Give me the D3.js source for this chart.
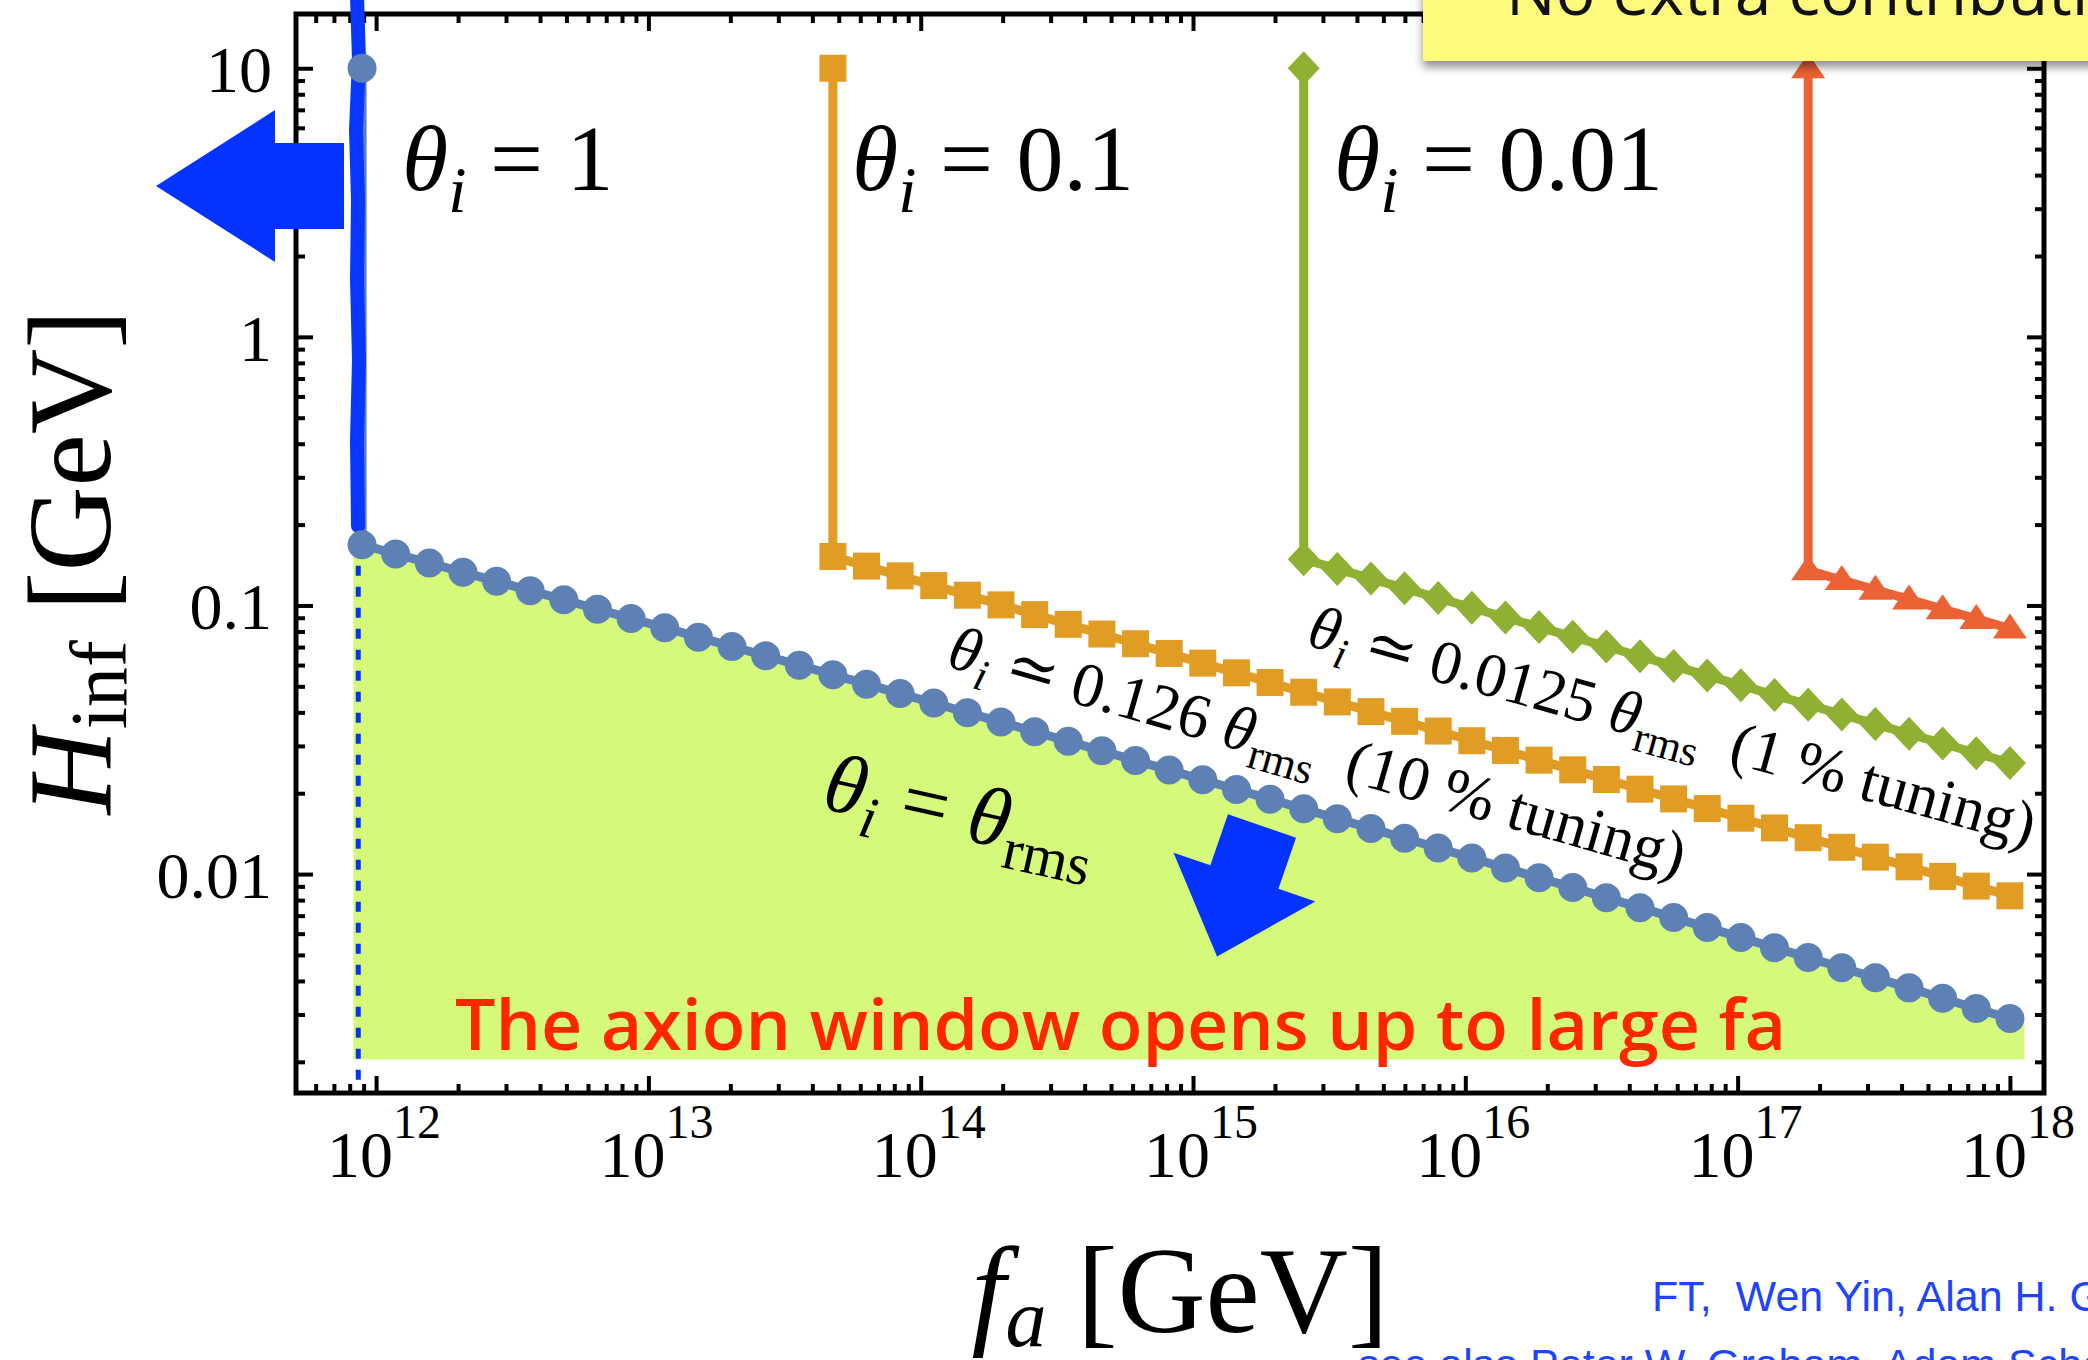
<!DOCTYPE html>
<html>
<head>
<meta charset="utf-8">
<script src="https://cdn.jsdelivr.net/npm/d3@7"></script>
<style>
html, body { margin: 0; padding: 0; background: #fff; overflow: hidden; }
svg { display: block; }
.math { font-family: "Liberation Serif", "DejaVu Serif", serif; fill: #000; }
</style>
</head>
<body>
<svg id="chart" width="2088" height="1360"></svg>
<script>
// f_a sample points (GeV), shared by every curve
const faGrid = [8.882e11, 1.180e12, 1.569e12, 2.084e12, 2.771e12, 3.681e12, 4.892e12, 6.501e12, 8.639e12, 1.148e13,
                1.526e13, 2.028e13, 2.695e13, 3.581e13, 4.759e13, 6.324e13, 8.404e13, 1.117e14, 1.484e14, 1.972e14,
                2.621e14, 3.483e14, 4.628e14, 6.152e14, 8.176e14, 1.086e15, 1.444e15, 1.919e15, 2.550e15, 3.388e15,
                4.503e15, 5.984e15, 7.952e15, 1.057e16, 1.404e16, 1.866e16, 2.480e16, 3.296e16, 4.380e16, 5.821e16,
                7.735e16, 1.028e17, 1.366e17, 1.816e17, 2.413e17, 3.206e17, 4.261e17, 5.662e17, 7.524e17, 1.000e18];

// H_inf upper bound (GeV), theta_i = theta_rms (also the theta_i = 1 corner)
const hRms = [0.1683, 0.1556, 0.1439, 0.1330, 0.1230, 0.1135, 0.1050, 0.09683, 0.08951, 0.08260,
              0.07621, 0.07036, 0.06493, 0.05989, 0.05521, 0.05093, 0.04699, 0.04335, 0.03990, 0.03681,
              0.03388, 0.03123, 0.02877, 0.02648, 0.02438, 0.02244, 0.02065, 0.01901, 0.01749, 0.01607,
              0.01479, 0.01359, 0.01250, 0.01148, 0.01054, 0.00968, 0.00891, 0.00817, 0.00750, 0.00689,
              0.00632, 0.00581, 0.00532, 0.00489, 0.00448, 0.00411, 0.00377, 0.00345, 0.00316, 0.00290];
// theta_i = 0.1
const hTenth = [0.1522, 0.1401, 0.1289, 0.1186, 0.1092, 0.1005, 0.09245, 0.08507, 0.07828, 0.07204,
                0.06629, 0.06100, 0.05613, 0.05165, 0.04753, 0.04375, 0.04025, 0.03704, 0.03408, 0.03136,
                0.02886, 0.02656, 0.02444, 0.02250, 0.02070, 0.01905, 0.01753, 0.01614, 0.01485, 0.01366,
                0.01258, 0.01156, 0.01064, 0.00980, 0.00902, 0.00830];
// theta_i = 0.01
const hHundredth = [0.1486, 0.1368, 0.1259, 0.1158, 0.1066, 0.09808, 0.09026, 0.08306, 0.07643, 0.07034,
                    0.06473, 0.05957, 0.05481, 0.05044, 0.04642, 0.04271, 0.03930, 0.03617, 0.03328, 0.03063,
                    0.02818, 0.02594];
// smallest theta_i curve (right)
const hSmallest = [0.1351, 0.1243, 0.1144, 0.1053, 0.0969, 0.0891, 0.0820];

const hTop = 10;               // vertical parts start here
const faDashed = 8.6e11;       // blue dashed line
const fillFa = [8.25e11, 1.13e18];
const fillFloor = 0.00204;

const xMajor = [1e12, 1e13, 1e14, 1e15, 1e16, 1e17, 1e18];
const xExponents = ["12", "13", "14", "15", "16", "17", "18"];
const yMajor = [0.01, 0.1, 1, 10];
const yTickLabels = ["0.01", "0.1", "1", "10"];

const series = [
    { h: hRms,       color: "#5e81b5", marker: "circle" },
    { h: hTenth,     color: "#e19c24", marker: "square" },
    { h: hHundredth, color: "#8fb032", marker: "diamond" },
    { h: hSmallest,  color: "#eb6235", marker: "triangle" }
];

const svg = d3.select("#chart");
const frameL = 296, frameR = 2044, frameT = 14, frameB = 1093;

const x = d3.scaleLog().domain([5.08e11, 1.334e18]).range([frameL, frameR]);
const y = d3.scaleLog().domain([0.001531, 15.92]).range([frameB, frameT]);

const defs = svg.append("defs");
defs.append("filter").attr("id", "shadow")
    .attr("x", "-10%").attr("y", "-50%").attr("width", "120%").attr("height", "250%")
    .append("feDropShadow")
    .attr("dx", 0).attr("dy", 6).attr("stdDeviation", 5)
    .attr("flood-color", "#000").attr("flood-opacity", 0.45);

// allowed region
const fillPts = [[fillFa[0], hRms[0]]]
    .concat(faGrid.map((f, i) => [f, hRms[i]]))
    .concat([[fillFa[1], hRms[hRms.length - 1]]]);

svg.append("path")
    .datum(fillPts)
    .attr("fill", "#d4f97b")
    .attr("d", d3.area().x(d => x(d[0])).y0(y(fillFloor)).y1(d => y(d[1])));

// dashed line at the window edge
svg.append("line")
    .attr("x1", x(faDashed)).attr("x2", x(faDashed))
    .attr("y1", y(hRms[0])).attr("y2", frameB - 6)
    .attr("stroke", "#0433ff").attr("stroke-width", 5)
    .attr("stroke-dasharray", "10 11");

// frame ticks
function minorTicks(lo, hi) {
    const out = [];
    for (let e = Math.floor(Math.log10(lo)); e <= Math.ceil(Math.log10(hi)); e++) {
        for (let m = 2; m <= 9; m++) {
            const v = m * Math.pow(10, e);
            if (v > lo && v < hi) out.push(v);
        }
    }
    return out;
}

function ticks(axis, scale, values, size, transform) {
    svg.append("g").attr("transform", transform)
        .call(axis(scale).tickValues(values).tickSize(size).tickFormat(""))
        .call(g => g.select(".domain").remove())
        .selectAll("line").attr("stroke", "#000").attr("stroke-width", 4);
}

const xMinor = minorTicks(x.domain()[0], x.domain()[1]);
const yMinor = minorTicks(y.domain()[0], y.domain()[1]);

ticks(d3.axisBottom, x, xMajor, -17, `translate(0,${frameB})`);
ticks(d3.axisBottom, x, xMinor, -9, `translate(0,${frameB})`);
ticks(d3.axisTop, x, xMajor, -17, `translate(0,${frameT})`);
ticks(d3.axisTop, x, xMinor, -9, `translate(0,${frameT})`);
ticks(d3.axisLeft, y, yMajor, -17, `translate(${frameL},0)`);
ticks(d3.axisLeft, y, yMinor, -9, `translate(${frameL},0)`);
ticks(d3.axisRight, y, yMajor, -17, `translate(${frameR},0)`);
ticks(d3.axisRight, y, yMinor, -9, `translate(${frameR},0)`);

svg.append("rect")
    .attr("x", frameL).attr("y", frameT)
    .attr("width", frameR - frameL).attr("height", frameB - frameT)
    .attr("fill", "none").attr("stroke", "#000").attr("stroke-width", 5);

// tick labels
xMajor.forEach((v, i) => {
    const t = svg.append("text").attr("class", "math")
        .attr("x", x(v) - 49).attr("y", 1177)
        .style("font-size", "66px");
    t.append("tspan").text("10");
    t.append("tspan").attr("dy", -39).style("font-size", "48px").text(xExponents[i]);
});

yMajor.forEach((v, i) => {
    svg.append("text").attr("class", "math")
        .attr("x", 272).attr("y", y(v) + 24)
        .attr("text-anchor", "end")
        .style("font-size", "66px")
        .text(yTickLabels[i]);
});

// curves
const line = d3.line().x(d => x(d[0])).y(d => y(d[1]));

function markerPath(kind, cx, cy) {
    if (kind === "diamond") return `M${cx},${cy - 17}L${cx + 16},${cy}L${cx},${cy + 17}L${cx - 16},${cy}Z`;
    if (kind === "triangle") return `M${cx},${cy - 15}L${cx + 17},${cy + 10}L${cx - 17},${cy + 10}Z`;
    return `M${cx - 13.5},${cy - 13.5}h27v27h-27Z`;
}

series.forEach(s => {
    const fa = faGrid.slice(faGrid.length - s.h.length);
    const pts = [[fa[0], hTop]].concat(fa.map((f, i) => [f, s.h[i]]));
    s.pts = pts;
    svg.append("path")
        .datum(pts)
        .attr("fill", "none")
        .attr("stroke", s.color)
        .attr("stroke-width", 9)
        .attr("stroke-linejoin", "round")
        .attr("d", line);
});

// hand drawn highlight over the theta_i = 1 line
svg.append("path")
    .attr("d", "M357,-4 L359,60 L356,130 L358,200 L357,280 L359,360 L357,440 L358,526")
    .attr("fill", "none")
    .attr("stroke", "#0a37ff")
    .attr("stroke-width", 14)
    .attr("stroke-linecap", "round");

series.forEach(s => {
    const g = svg.append("g").attr("fill", s.color);
    if (s.marker === "circle") {
        g.selectAll("circle").data(s.pts).join("circle")
            .attr("cx", d => x(d[0])).attr("cy", d => y(d[1]))
            .attr("r", 14.5);
    } else {
        g.selectAll("path").data(s.pts).join("path")
            .attr("d", d => markerPath(s.marker, x(d[0]), y(d[1])));
    }
});

// arrows
svg.append("path")
    .attr("d", "M156,186 L275,110 L275,143 L344,143 L344,229 L275,229 L275,262 Z")
    .attr("fill", "#0433ff");

svg.append("path")
    .attr("transform", "translate(1262,826) rotate(19)")
    .attr("d", "M-36,0 L36,0 L36,54 L75,54 L0,138 L-75,54 L-36,54 Z")
    .attr("fill", "#0433ff");

// curve labels
function thetaLabel(px, py, size, rest) {
    const t = svg.append("text").attr("class", "math")
        .attr("x", px).attr("y", py).style("font-size", size + "px");
    t.append("tspan").style("font-style", "italic").text("θ");
    t.append("tspan").style("font-style", "italic").style("font-size", (size * 0.7) + "px")
        .attr("dy", size * 0.23).text("i");
    t.append("tspan").attr("dy", -size * 0.23).text(rest);
    return t;
}

thetaLabel(402, 190, 94, " = 1");
thetaLabel(852, 190, 94, " = 0.1");
thetaLabel(1334, 190, 94, " = 0.01");

function rotatedLabel(px, py, angle, size, relation, tail) {
    const g = svg.append("g").attr("transform", `translate(${px},${py}) rotate(${angle})`);
    const t = g.append("text").attr("class", "math").style("font-size", size + "px")
        .style("white-space", "pre");
    const sub = size * 0.7, drop = size * 0.22;
    t.append("tspan").style("font-style", "italic").text("θ");
    t.append("tspan").style("font-style", "italic").style("font-size", sub + "px").attr("dy", drop).text("i");
    t.append("tspan").attr("dy", -drop).text(relation);
    t.append("tspan").style("font-style", "italic").text("θ");
    t.append("tspan").style("font-size", sub + "px").attr("dy", drop).text("rms");
    if (tail) t.append("tspan").attr("dy", -drop).text(tail);
}

rotatedLabel(945, 666, 16, 63, " ≃ 0.126 ", "  (10 % tuning)");
rotatedLabel(1305, 645, 15.5, 62, " ≃ 0.0125 ", "  (1 % tuning)");
rotatedLabel(820, 808, 12.5, 84, " = ", null);

svg.append("text")
    .attr("x", 455).attr("y", 1050)
    .attr("textLength", 1331).attr("lengthAdjust", "spacingAndGlyphs")
    .style("font-family", "'Open Sans', 'Liberation Sans', sans-serif")
    .style("font-weight", 600)
    .style("font-size", "70px")
    .attr("fill", "#ff2600")
    .text("The axion window opens up to large fa");

// axis titles
const yt = svg.append("text").attr("class", "math")
    .attr("transform", "translate(110,562) rotate(-90)")
    .attr("text-anchor", "middle")
    .style("font-size", "118px");
yt.append("tspan").style("font-style", "italic").text("H");
yt.append("tspan").style("font-size", "80px").attr("dy", 16).text("inf");
yt.append("tspan").attr("dy", -16).text(" [GeV]");

const xt = svg.append("text").attr("class", "math")
    .attr("x", 1180).attr("y", 1332)
    .attr("text-anchor", "middle")
    .style("font-size", "122px");
xt.append("tspan").style("font-style", "italic").text("f");
xt.append("tspan").style("font-style", "italic").style("font-size", "82px").attr("dy", 14).text("a");
xt.append("tspan").attr("dy", -14).text(" [GeV]");

// yellow note box at the top
svg.append("rect")
    .attr("x", 1423).attr("y", -30)
    .attr("width", 720).attr("height", 91)
    .attr("fill", "#fffa7d")
    .attr("filter", "url(#shadow)");

svg.append("text")
    .attr("x", 1506).attr("y", 15)
    .style("font-family", "'Open Sans', 'Noto Sans', sans-serif")
    .style("font-size", "66px")
    .attr("fill", "#111")
    .text("No extra contribution");

// references
svg.append("text")
    .attr("x", 1652).attr("y", 1311)
    .style("font-family", "'Liberation Sans', Arial, sans-serif")
    .style("font-size", "43px")
    .style("white-space", "pre")
    .attr("fill", "#1f44ff")
    .text("FT,  Wen Yin, Alan H. Guth");

svg.append("text")
    .attr("x", 1358).attr("y", 1379)
    .style("font-family", "'Liberation Sans', Arial, sans-serif")
    .style("font-size", "43px")
    .attr("fill", "#1f44ff")
    .text("see also Peter W. Graham, Adam Scherlis");
</script>
</body>
</html>
